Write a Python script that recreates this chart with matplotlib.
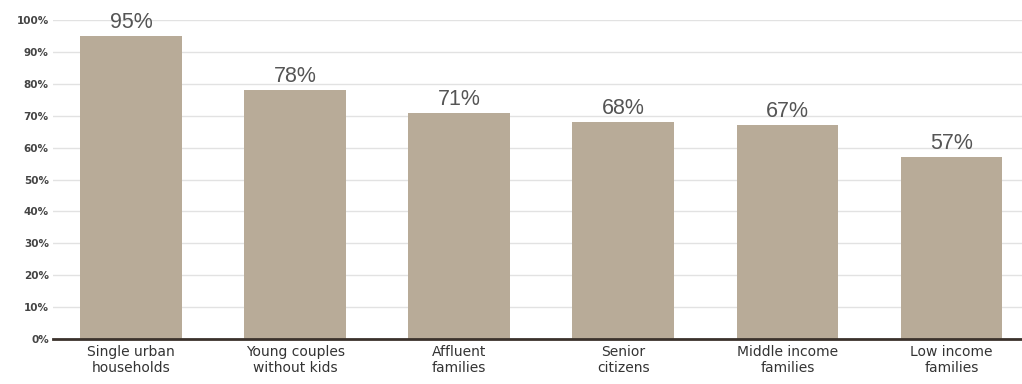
"""Bar chart: share of households by segment."""

import matplotlib.pyplot as plt

categories = ["Single urban\nhouseholds", "Young couples\nwithout kids", "Affluent\nfamilies",
              "Senior\ncitizens", "Middle income\nfamilies", "Low income\nfamilies"]
values = [95, 78, 71, 68, 67, 57]
y_ticks = [0, 10, 20, 30, 40, 50, 60, 70, 80, 90, 100]
y_tick_labels = [f"{t}%" for t in y_ticks]

bar_color = "#b8ab98"

fig = plt.figure(figsize=(10.22, 3.84), dpi=100)
ax = fig.add_axes([53 / 1022, 45 / 384, 969 / 1022, 319 / 384])

x = list(range(len(categories)))
bars = ax.bar(x, values, width=0.62, color=bar_color, zorder=2)

for xi, v in zip(x, values):
    ax.annotate(f"{v}%", (xi, v), xytext=(0, 2), textcoords="offset points",
                ha="center", va="bottom", fontsize=15.5, color="#555555",
                family="Liberation Sans", annotation_clip=False)

ax.set_xlim(-0.476, 5.43)
ax.set_ylim(0, 100)
ax.set_yticks(y_ticks)
ax.set_yticklabels(y_tick_labels, fontsize=7.5, fontweight="bold", color="#444444")
ax.set_xticks(x)
ax.set_xticklabels(categories, fontsize=10, color="#333333", linespacing=1.2)

ax.grid(axis="y", color="#e2e2e2", linewidth=1, zorder=0)
ax.set_axisbelow(True)
ax.tick_params(axis="both", length=0)
ax.tick_params(axis="y", pad=3)
ax.tick_params(axis="x", pad=4)
for side in ["top", "right", "left"]:
    ax.spines[side].set_visible(False)
ax.spines["bottom"].set_color("#3b322c")
ax.spines["bottom"].set_linewidth(2)
ax.spines["bottom"].set_zorder(3)

plt.savefig("out.png", dpi=100)
